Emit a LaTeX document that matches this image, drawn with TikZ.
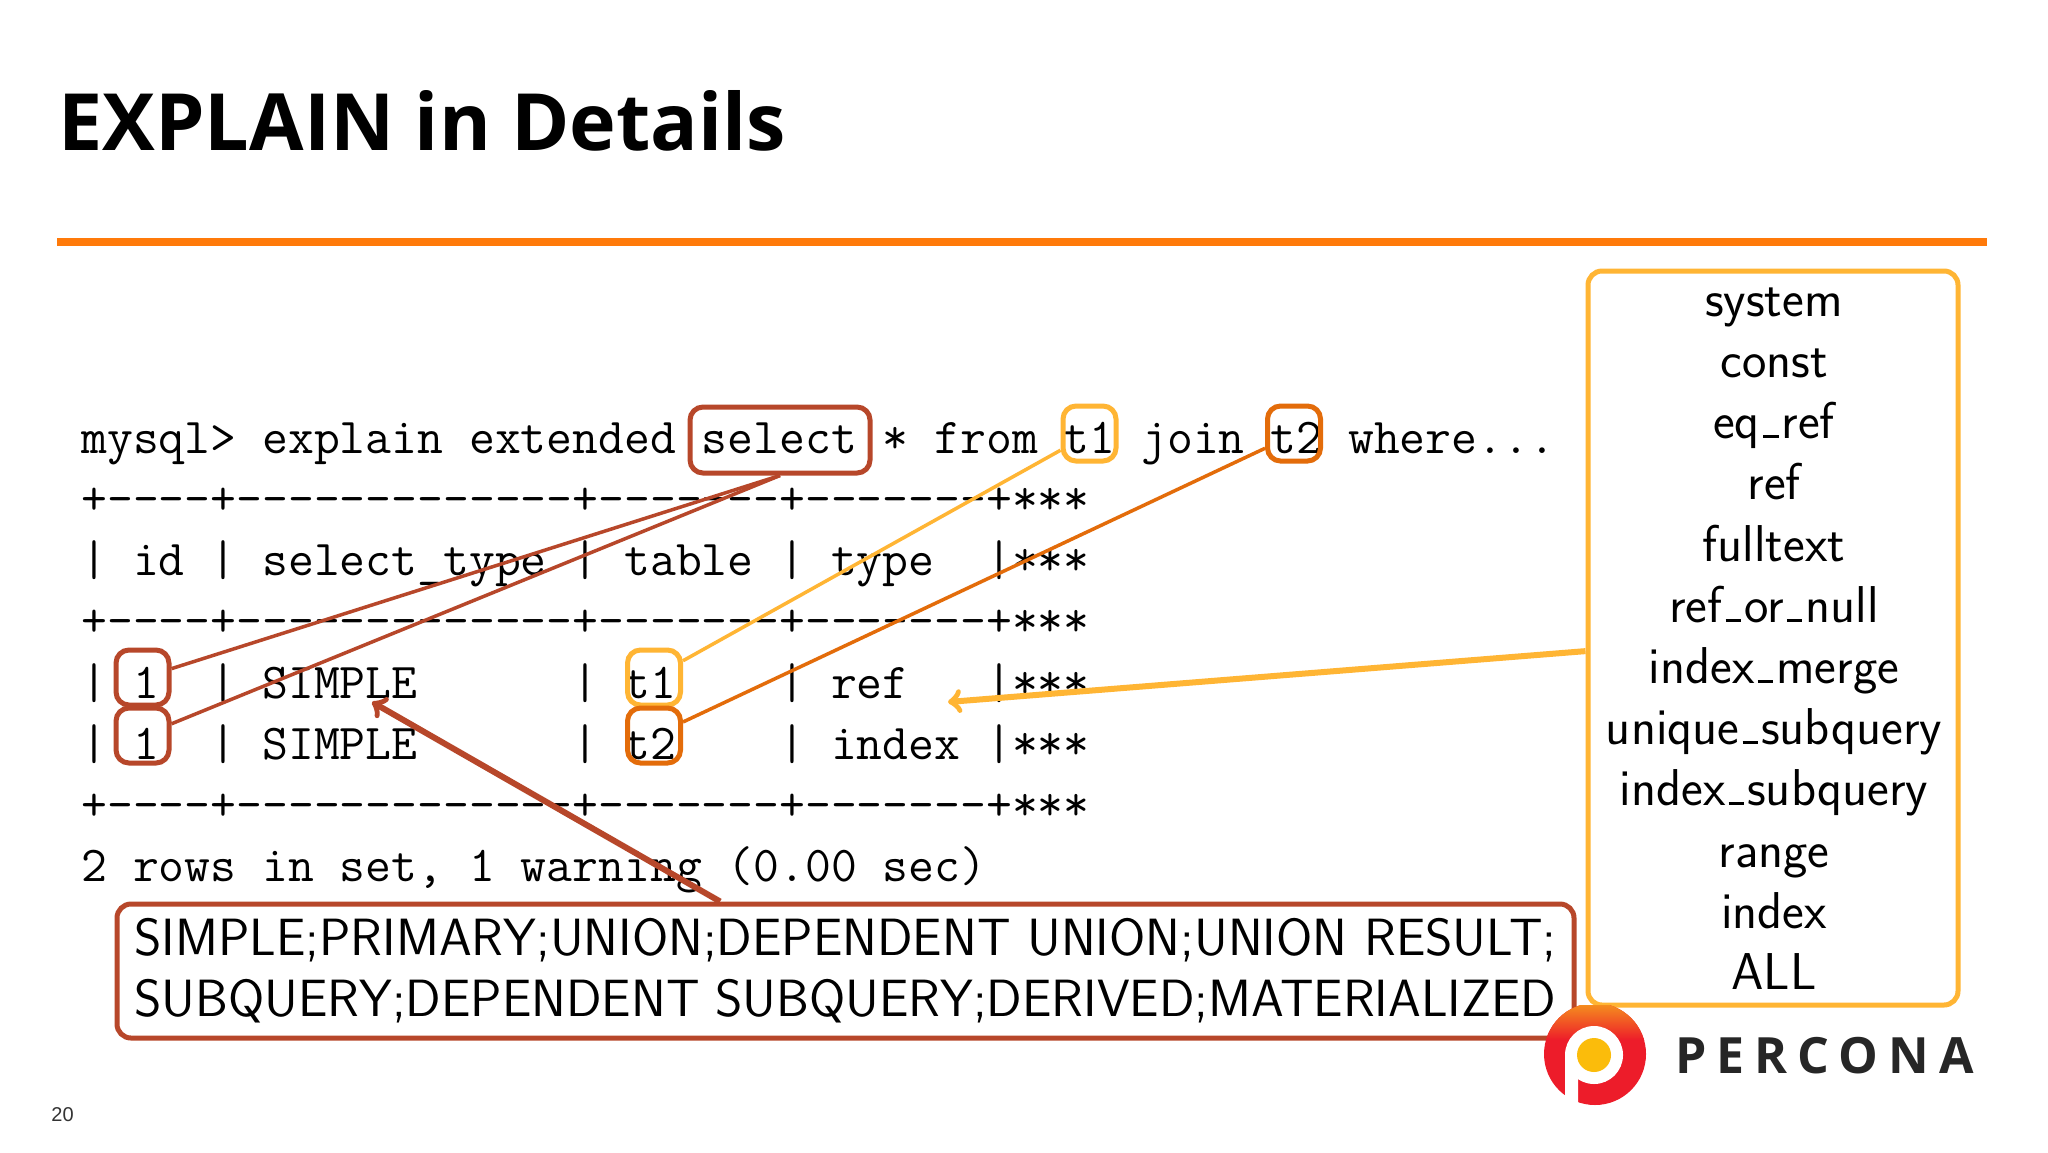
\documentclass[tikz,border=0pt]{standalone}
\usepackage{fontspec}
\newfontfamily\titlefont{Open Sans}
\newfontfamily\logofont[LetterSpace=20]{Open Sans}
\newfontfamily\pagefont{Liberation Sans}
\newcommand{\us}{\leavevmode\kern.06em\rule{.3em}{.05em}\kern.06em}
\newcommand{\tabrule}{+-{}-{}-{}-+-{}-{}-{}-{}-{}-{}-{}-{}-{}-{}-{}-{}-+-{}-{}-{}-{}-{}-{}-+-{}-{}-{}-{}-{}-{}-+***}
\definecolor{brickc}{HTML}{B7472A}
\definecolor{ambc}{HTML}{FFB534}
\definecolor{orangec}{HTML}{E36C0A}
\definecolor{rulec}{HTML}{FF7A0A}
\definecolor{logored}{HTML}{ED1C2A}
\definecolor{logotop}{HTML}{F5921E}
\definecolor{logoyel}{HTML}{FBBC0B}
\begin{document}
\begin{tikzpicture}[x=0.5pt,y=-0.5pt,
  code/.style={anchor=base west,inner sep=0pt,font=\fontsize{25.1}{25.1}\selectfont\ttfamily},
  listitem/.style={anchor=base,inner sep=0pt,font=\fontsize{25.9}{25.9}\selectfont\sffamily},
  longline/.style={anchor=base west,inner sep=0pt,font=\fontsize{26.2}{26.2}\selectfont\sffamily},
  mark box/.style={draw=#1,line width=2.5pt,rounded corners=6.5pt,inner sep=0pt,minimum height=27.5pt},
  link/.style={draw=#1,line width=1.75pt},
  callout/.style={draw=#1,line width=3pt,->}]
\useasboundingbox (0,0) rectangle (2048,1152);
\fill[white] (0,0) rectangle (2048,1152);

\node[anchor=base west,inner sep=0pt,font=\fontsize{39.5}{39.5}\selectfont\titlefont\bfseries] (title) at (58,150) {EXPLAIN in Details};
\fill[rulec] (57,238) rectangle (1987,246);

\node[code] (c1) at (81,453) {mysql> explain extended select * from t1 join t2 where...};
\node[code] (c2) at (81,514) {\tabrule};
\node[code] (c3) at (81,575) {| id | select\_type | table | type~~|***};
\node[code] (c4) at (81,636) {\tabrule};
\node[code] (c5) at (81,698) {| 1~~| SIMPLE~~~~~~| t1~~~~| ref~~~|***};
\node[code] (c6) at (81,759) {| 1~~| SIMPLE~~~~~~| t2~~~~| index |***};
\node[code] (c7) at (81,820) {\tabrule};
\node[code] (c8) at (81,881) {2 rows in set, 1 warning (0.00 sec)};

\node[mark box=brickc,minimum width=90pt,minimum height=33pt] (sel) at (780,440) {};
\node[mark box=ambc,minimum width=26.5pt] (t1top) at (1089.5,433.5) {};
\node[mark box=orangec,minimum width=26.5pt] (t2top) at (1294,433.5) {};
\node[mark box=brickc,minimum width=26.5pt] (one1) at (142.5,677.5) {};
\node[mark box=brickc,minimum width=26.5pt] (one2) at (142.5,735.5) {};
\node[mark box=ambc,minimum width=26.5pt] (t1row) at (654,677.5) {};
\node[mark box=orangec,minimum width=26.5pt] (t2row) at (654,735.5) {};

\node[draw=brickc,line width=2.5pt,rounded corners=7pt,inner sep=0pt,minimum width=728.5pt,minimum height=67pt] (kinds) at (845.5,971) {};
\node[longline] (k1) at (134,955) {\hbox to 711pt{SIMPLE;PRIMARY;UNION;DEPENDENT UNION;UNION RESULT;}};
\node[longline] (k2) at (134,1016) {\hbox to 711pt{SUBQUERY;DEPENDENT SUBQUERY;DERIVED;MATERIALIZED}};

\node[draw=ambc,line width=2.5pt,rounded corners=7pt,inner sep=0pt,minimum width=185pt,minimum height=367pt] (access) at (1773,638) {};
\node[listitem] (a1) at (1774,316) {system};
\node[listitem] (a2) at (1774,377) {const};
\node[listitem] (a3) at (1774,438) {eq\us ref};
\node[listitem] (a4) at (1774,499) {ref};
\node[listitem] (a5) at (1774,561) {fulltext};
\node[listitem] (a6) at (1774,622) {ref\us or\us null};
\node[listitem] (a7) at (1774,683) {index\us merge};
\node[listitem] (a8) at (1774,744) {unique\us subquery};
\node[listitem] (a9) at (1774,805) {index\us subquery};
\node[listitem] (a10) at (1774,867) {range};
\node[listitem] (a11) at (1774,928) {index};
\node[listitem] (a12) at (1774,989) {ALL};

\draw[link=brickc] (sel.south) -- (one1.17);
\draw[link=brickc] (sel.south) -- (one2.22);
\draw[link=ambc] (t1top.210) -- (t1row.30);
\draw[link=orangec] (t2top.207) -- (t2row.25);
\draw[callout=ambc] (access.184.6) -- (948,702);
\draw[callout=brickc] (kinds.151) -- (372,702);

\begin{scope}
\clip (1544,1005) rectangle (1646,1105);
\fill[logored] (1595,1054) circle (51);
\clip (1595,1054) circle (51);
\shade[top color=logotop,bottom color=logored] (1544,1003) rectangle (1646,1040);
\end{scope}
\fill[white] (1594,1055) circle (29);
\fill[white] (1565,1055) -- (1578,1055) -- (1578,1105) -- (1565,1101) -- cycle;
\fill[logoyel] (1594,1055) circle (17);
\node[anchor=base west,inner sep=0pt,font=\fontsize{25}{25}\selectfont\logofont\bfseries,text=black!85] (logo) at (1675,1073) {PERCONA};
\node[anchor=base west,inner sep=0pt,font=\fontsize{10}{10}\selectfont\pagefont,text=black!80] (page) at (51,1121) {20};
\end{tikzpicture}
\end{document}
